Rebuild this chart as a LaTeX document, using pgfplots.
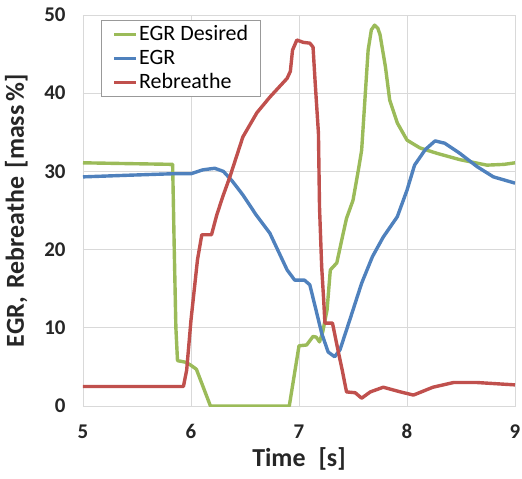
\documentclass[border=0pt]{standalone}
\usepackage{pgfplots}
\pgfplotsset{compat=1.18}
\usepackage{fontspec}
\setmainfont{Carlito}
\definecolor{cgreen}{RGB}{155,187,89}
\definecolor{cblue}{RGB}{79,129,189}
\definecolor{cred}{RGB}{192,80,77}
\definecolor{cgrid}{RGB}{217,217,217}
\begin{document}
\begin{tikzpicture}
\begin{axis}[
  scale only axis,
  width=432bp, height=391bp,
  xmin=5, xmax=9, ymin=0, ymax=50,
  xtick={5,6,7,8,9}, ytick={0,10,20,30,40,50},
  grid=major,
  grid style={cgrid, line width=0.8bp},
  axis line style={cgrid, line width=0.8bp},
  major tick length=0pt,
  /pgf/number format/assume math mode=true,
  ticklabel style={font=\bfseries\fontsize{21}{21}\selectfont, text=black!85},
  yticklabel style={xshift=-14bp},
  xticklabel style={yshift=-15bp},
  xlabel={Time\,\,\,[s]},
  ylabel={EGR,\,\,Rebreathe\,\,[mass\,\%]},
  label style={font=\bfseries\fontsize{26}{26}\selectfont, text=black!85},
  xlabel style={at={(axis description cs:0.5,-0.1535)}, anchor=base},
  ylabel style={at={(axis description cs:-0.1366,0.5)}, anchor=base, rotate=0},
  legend cell align=left,
  legend style={at={(axis description cs:0.0417,0.987)}, anchor=north west,
    draw=black!40, line width=0.6bp, font=\fontsize{22}{24}\selectfont,
    inner xsep=11bp, inner ysep=2bp,
    nodes={inner xsep=1.5bp, inner ysep=2bp, text height=16bp, text depth=4bp},
    row sep=0pt},
  legend image code/.code={\draw[#1] (0bp,0bp) -- (22bp,0bp);},
  every axis plot/.append style={line width=3.4bp, line join=round},
]
\coordinate (ll) at (rel axis cs:0,0);
\coordinate (ur) at (rel axis cs:1,1);
\addplot[cgreen] coordinates {
(5.00,31.1) (5.40,31.0) (5.83,30.9) (5.845,20) (5.86,10) (5.875,5.8) (5.95,5.6)
(6.00,5.2) (6.05,4.7) (6.18,0) (6.91,0) (7.00,7.7) (7.07,7.8) (7.13,8.9)
(7.16,8.8) (7.19,8.2) (7.22,9.5) (7.26,12.3) (7.29,17.4) (7.35,18.3) (7.40,21.5)
(7.44,24.0) (7.50,26.3) (7.55,30.2) (7.58,32.7) (7.61,39.1) (7.64,45.5) (7.67,48.1)
(7.70,48.7) (7.73,48.3) (7.75,47.5) (7.80,43.4) (7.84,39.1) (7.91,36.2) (8.00,34.0)
(8.12,33.0) (8.28,32.3) (8.49,31.5) (8.74,30.8) (8.90,30.9) (9.00,31.1)
};
\addlegendentry{EGR Desired}
\addplot[cblue] coordinates {
(5.00,29.3) (5.40,29.5) (5.83,29.7) (6.00,29.7) (6.11,30.2) (6.22,30.4) (6.30,30.0)
(6.38,28.8) (6.48,27.0) (6.60,24.5) (6.73,22.1) (6.89,17.4) (6.96,16.1) (7.05,16.1)
(7.10,15.5) (7.15,12.7) (7.21,9.3) (7.27,6.9) (7.33,6.3) (7.38,7.2) (7.47,11.0)
(7.58,15.7) (7.68,19.1) (7.78,21.6) (7.91,24.2) (8.00,27.6) (8.07,30.8) (8.17,32.8)
(8.26,33.9) (8.35,33.6) (8.49,32.3) (8.65,30.6) (8.80,29.3) (9.00,28.5)
};
\addlegendentry{EGR}
\addplot[cred] coordinates {
(5.00,2.5) (5.93,2.5) (5.96,4.6) (6.00,11.0) (6.06,18.7) (6.10,21.9) (6.19,21.9)
(6.24,24.5) (6.30,27.0) (6.36,29.3) (6.48,34.4) (6.61,37.5) (6.73,39.5) (6.89,41.9)
(6.92,42.8) (6.94,45.5) (6.98,46.8) (7.04,46.5) (7.10,46.4) (7.13,45.9) (7.15,41.3)
(7.18,34.9) (7.19,25.4) (7.21,17.8) (7.23,13.2) (7.24,10.6) (7.31,10.6) (7.36,7.2)
(7.40,4.6) (7.44,1.8) (7.52,1.7) (7.58,1.0) (7.66,1.8) (7.78,2.4) (7.94,1.8)
(8.06,1.4) (8.24,2.4) (8.43,3.0) (8.65,3.0) (9.00,2.7)
};
\addlegendentry{Rebreathe}
\end{axis}
\pgfresetboundingbox
\useasboundingbox ([shift={(-83bp,-73bp)}]ll) rectangle ([shift={(7bp,15bp)}]ur);
\end{tikzpicture}
\end{document}
